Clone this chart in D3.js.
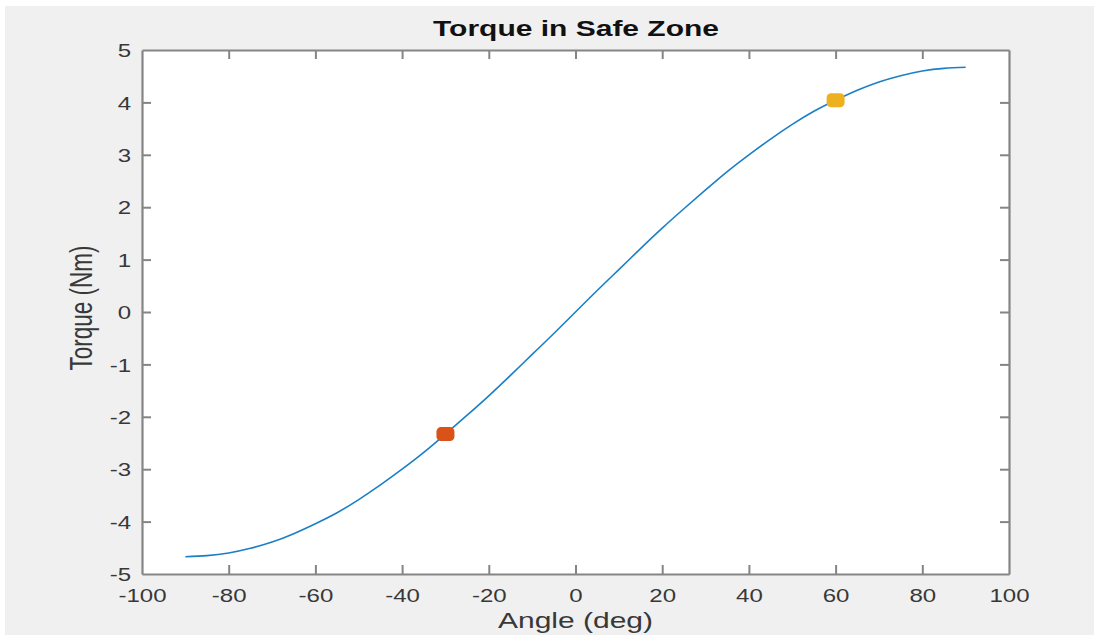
<!DOCTYPE html>
<html>
<head>
<meta charset="utf-8">
<script src="https://cdn.jsdelivr.net/npm/d3@7"></script>
<style>
  html, body { margin: 0; padding: 0; background: #ffffff; }
  svg { display: block; }
  text { font-family: "Liberation Sans", Arial, Helvetica, sans-serif; }
</style>
</head>
<body>
<svg id="chart" width="1094" height="635"></svg>
<script>
// ---- Data ----
const angles = [-90, -85, -80, -75, -70, -65, -60, -55, -50, -45, -40, -35, -30, -25, -20, -15, -10, -5,
                0, 5, 10, 15, 20, 25, 30, 35, 40, 45, 50, 55, 60, 65, 70, 75, 80, 85, 90];
const torque = [-4.67, -4.65, -4.60, -4.51, -4.39, -4.23, -4.04, -3.83, -3.58, -3.30, -3.00, -2.68, -2.33, -1.97, -1.60, -1.21, -0.81, -0.41,
                0.00, 0.41, 0.81, 1.21, 1.60, 1.97, 2.33, 2.68, 3.00, 3.30, 3.58, 3.83, 4.04, 4.23, 4.39, 4.51, 4.60, 4.65, 4.67];
const markerAngles = [-30, 60];
const markerTorques = [-2.33, 4.04];
const markerColors = ["#D95319", "#EDB120"];
const xTicks = [-100, -80, -60, -40, -20, 0, 20, 40, 60, 80, 100];
const yTicks = [-5, -4, -3, -2, -1, 0, 1, 2, 3, 4, 5];
const titleText = "Torque in Safe Zone";
const xLabelText = "Angle (deg)";
const yLabelText = "Torque (Nm)";

// ---- Layout ----
const W = 1094, H = 635;
const plot = { left: 142, right: 1009, top: 50, bottom: 574 };
const svg = d3.select("#chart");

// figure background (white strip at top/left as in the reference)
svg.append("rect").attr("x", 0).attr("y", 0).attr("width", W).attr("height", H).attr("fill", "#ffffff");
svg.append("rect").attr("x", 5).attr("y", 6).attr("width", W - 5).attr("height", H - 6).attr("fill", "#f0f0f0");

const x = d3.scaleLinear().domain([-100, 100]).range([plot.left, plot.right]);
const y = d3.scaleLinear().domain([-5, 5]).range([plot.bottom, plot.top]);

// axes area
svg.append("rect")
  .attr("x", plot.left).attr("y", plot.top)
  .attr("width", plot.right - plot.left).attr("height", plot.bottom - plot.top)
  .attr("fill", "#ffffff");

const axisColor = "#858585";
const tickLen = 9;
const labelColor = "#383838";
const fmt = d => String(d);   // plain hyphen-minus like the reference

function stretch(sel, factor) {
  sel.each(function () {
    const len = this.getComputedTextLength();
    d3.select(this).attr("textLength", len * factor).attr("lengthAdjust", "spacingAndGlyphs");
  });
}

// bottom axis
const gx = svg.append("g").attr("transform", `translate(0,${plot.bottom})`)
  .call(d3.axisBottom(x).tickValues(xTicks).tickSizeInner(-tickLen).tickSizeOuter(0).tickFormat(fmt));
// top axis (mirror ticks)
const gxt = svg.append("g").attr("transform", `translate(0,${plot.top})`)
  .call(d3.axisTop(x).tickValues(xTicks).tickSizeInner(-tickLen).tickSizeOuter(0).tickFormat(""));
// left axis
const gy = svg.append("g").attr("transform", `translate(${plot.left},0)`)
  .call(d3.axisLeft(y).tickValues(yTicks).tickSizeInner(-tickLen).tickSizeOuter(0).tickFormat(fmt));
// right axis
const gyr = svg.append("g").attr("transform", `translate(${plot.right},0)`)
  .call(d3.axisRight(y).tickValues(yTicks).tickSizeInner(-tickLen).tickSizeOuter(0).tickFormat(""));

[gx, gxt, gy, gyr].forEach(g => {
  g.select(".domain").attr("stroke", axisColor).attr("stroke-width", 2.2);
  g.selectAll(".tick line").attr("stroke", axisColor).attr("stroke-width", 2);
});
// remove end ticks that coincide with the box corners
[gx, gxt].forEach(g => g.selectAll(".tick line").filter(d => d === -100 || d === 100).remove());
[gy, gyr].forEach(g => g.selectAll(".tick line").filter(d => d === -5 || d === 5).remove());

gx.selectAll(".tick text")
  .attr("font-size", 18.5).attr("fill", labelColor).attr("dy", "0").attr("y", 27.5);
gy.selectAll(".tick text")
  .attr("font-size", 18.5).attr("fill", labelColor).attr("dy", "0.36em").attr("x", -11);
stretch(gx.selectAll(".tick text"), 1.3);
stretch(gy.selectAll(".tick text"), 1.3);

// line
const line = d3.line().x((d, i) => x(angles[i])).y(d => y(d)).curve(d3.curveNatural);
svg.append("path")
  .datum(torque)
  .attr("d", line)
  .attr("fill", "none")
  .attr("stroke", "#1b7fc6")
  .attr("stroke-width", 1.6);

// markers
svg.selectAll("rect.marker")
  .data(markerAngles)
  .enter().append("rect")
  .attr("class", "marker")
  .attr("x", (d) => x(d) - 9)
  .attr("y", (d, i) => y(markerTorques[i]) - 7)
  .attr("width", 18).attr("height", 14)
  .attr("rx", 4.5).attr("ry", 4.5)
  .attr("fill", (d, i) => markerColors[i]);

// title
svg.append("text")
  .attr("x", (plot.left + plot.right) / 2 + 0.5).attr("y", 36)
  .attr("text-anchor", "middle")
  .attr("font-size", 22).attr("font-weight", "bold").attr("fill", "#111111")
  .attr("textLength", 286).attr("lengthAdjust", "spacingAndGlyphs")
  .text(titleText);

// x label
svg.append("text")
  .attr("x", 575.5).attr("y", 628)
  .attr("text-anchor", "middle")
  .attr("font-size", 21.5).attr("fill", labelColor)
  .attr("textLength", 155).attr("lengthAdjust", "spacingAndGlyphs")
  .text(xLabelText);

// y label (stretched horizontally on screen, like the reference)
svg.append("text")
  .attr("transform", `translate(92,308) scale(1.45,1) rotate(-90)`)
  .attr("text-anchor", "middle")
  .attr("font-size", 22).attr("fill", labelColor)
  .attr("textLength", 125).attr("lengthAdjust", "spacingAndGlyphs")
  .text(yLabelText);
</script>
</body>
</html>
